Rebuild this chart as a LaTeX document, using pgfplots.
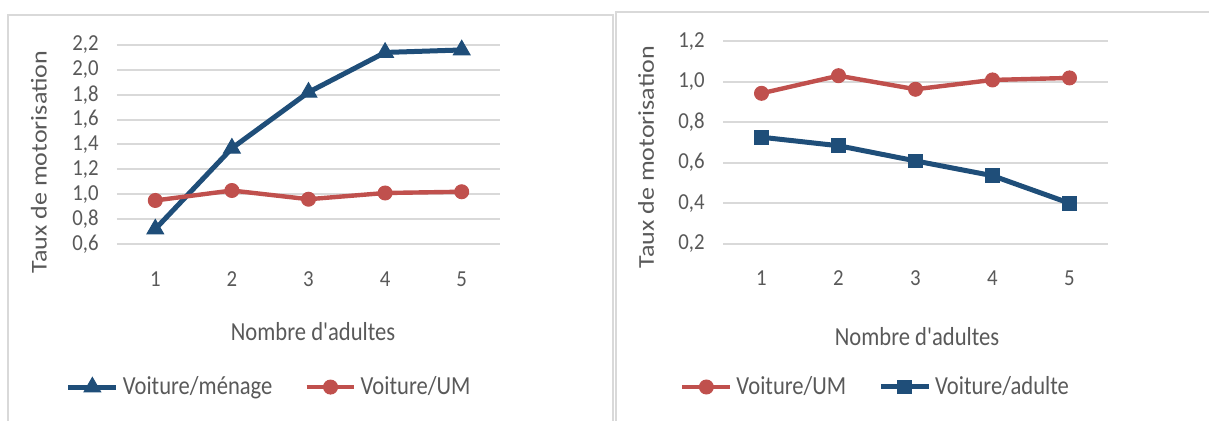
\documentclass[border=0pt]{standalone}
\usepackage{fontspec}
\setmainfont{Carlito}
\usepackage{pgfplots}
\pgfplotsset{compat=1.18}
\definecolor{cblue}{HTML}{1F4E79}
\definecolor{cred}{HTML}{C0504D}
\definecolor{cgrid}{HTML}{D9D9D9}
\definecolor{ctext}{HTML}{595959}
\pgfplotsset{
  excel/.style={
    scale only axis,
    xmin=0.5, xmax=5.5,
    xtick={1,2,3,4,5},
    axis line style={draw=none},
    major tick length=0pt,
    ymajorgrids=true,
    grid style={cgrid, line width=1pt},
    tick label style={font=\fontsize{10.4}{12}\selectfont, text=ctext, yscale=1.1},
    /pgf/number format/assume math mode=true,
    yticklabel style={anchor=east, inner sep=0pt, xshift=-9pt,
      /pgf/number format/.cd, fixed, fixed zerofill, precision=1, use comma},
    xticklabel style={anchor=center, inner sep=0pt, yshift=-16pt},
    xlabel style={font=\fontsize{11.3}{13}\selectfont, text=ctext, yscale=1.15},
    ylabel style={font=\fontsize{13}{15}\selectfont, text=ctext, yscale=0.87},
    legend style={draw=none, fill=none, font=\fontsize{11.3}{13}\selectfont, text=ctext,
      /tikz/every even column/.append style={column sep=14pt}, inner sep=0pt,
      nodes={yscale=1.15}},
    legend columns=2,
    legend cell align=left,
    legend image code/.code={\draw[##1,mark repeat=2,mark phase=2] plot coordinates {(0cm,0cm) (0.42cm,0cm) (0.84cm,0cm)};},
    clip=false,
  },
}
\begin{document}
\begin{tikzpicture}
\path[use as bounding box] (0,0) rectangle (604.5pt,210.5pt);
\draw[cgrid, line width=1pt] (4pt,0) -- (4pt,202.75pt) -- (306.5pt,202.75pt) -- (306.5pt,0);
\draw[cgrid, line width=1pt] (308pt,0) -- (308pt,204.5pt) -- (606pt,204.5pt);
\begin{axis}[excel,
  at={(58.5pt,88.5pt)}, anchor=south west,
  width=191.5pt, height=99.5pt,
  ymin=0.6, ymax=2.2, ytick={0.6,0.8,1.0,1.2,1.4,1.6,1.8,2.0,2.2},
  xlabel={Nombre d\textquotesingle adultes}, ylabel={Taux de motorisation},
  xlabel style={at={(rel axis cs:0.512,-0.442)}, anchor=center},
  ylabel style={at={(rel axis cs:-0.204,0.412)}, anchor=center},
  legend style={at={(0.40,-0.719)}, anchor=center},
]
\addplot[cblue, line width=2.5pt, mark=triangle*, mark size=4.8pt, mark options={solid, line width=0.5pt}]
  coordinates {(1,0.72) (2,1.37) (3,1.82) (4,2.14) (5,2.16)};
\addlegendentry{Voiture/ménage}
\addplot[cred, line width=2.2pt, mark=*, mark size=3.5pt, mark options={solid, line width=0.5pt}]
  coordinates {(1,0.95) (2,1.03) (3,0.96) (4,1.01) (5,1.02)};
\addlegendentry{Voiture/UM}
\end{axis}
\begin{axis}[excel,
  at={(361.5pt,88.65pt)}, anchor=south west,
  width=192.5pt, height=101.2pt,
  ymin=0.2, ymax=1.2, ytick={0.2,0.4,0.6,0.8,1.0,1.2},
  xticklabel style={yshift=0.5pt},
  xlabel={Nombre d\textquotesingle adultes}, ylabel={Taux de motorisation},
  xlabel style={at={(rel axis cs:0.504,-0.461)}, anchor=center},
  ylabel style={at={(rel axis cs:-0.2,0.428)}, anchor=center},
  legend style={at={(0.399,-0.708)}, anchor=center},
]
\addplot[cred, line width=2.2pt, mark=*, mark size=3.5pt, mark options={solid, line width=0.5pt}]
  coordinates {(1,0.943) (2,1.03) (3,0.963) (4,1.009) (5,1.019)};
\addlegendentry{Voiture/UM}
\addplot[cblue, line width=2.5pt, mark=square*, mark size=3.4pt, mark options={solid, line width=0.5pt}]
  coordinates {(1,0.726) (2,0.684) (3,0.609) (4,0.536) (5,0.40)};
\addlegendentry{Voiture/adulte}
\end{axis}
\end{tikzpicture}
\end{document}
